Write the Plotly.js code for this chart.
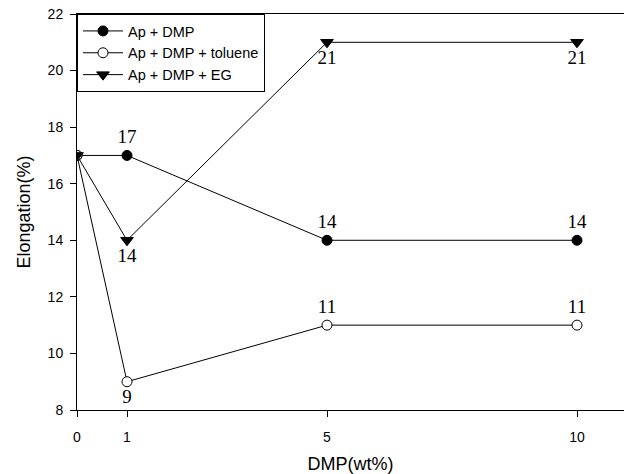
<!DOCTYPE html>
<html>
<head>
<meta charset="utf-8">
<script src="https://cdn.plot.ly/plotly-3.0.1.min.js"></script>
<style>html,body{margin:0;padding:0;background:#fff;}#chart{width:624px;height:474px;}</style>
</head>
<body>
<div id="chart"></div>
<script>
var dmp = [0, 1, 5, 10];
var tickLabels = ['0', '1', '5', '10'];
var apDmp = [17, 17, 14, 14];
var apDmpToluene = [17, 9, 11, 11];
var apDmpEG = [17, 14, 21, 21];
var seriesNames = ['Ap + DMP', 'Ap + DMP + toluene', 'Ap + DMP + EG'];

function labels(vals) {
  return vals.map(function (v, i) { return i === 0 ? '' : String(v); });
}

var labelFont = {family: 'Liberation Serif, Times New Roman, serif', size: 19, color: '#000'};

var traces = [
  {
    x: dmp, y: apDmp, name: seriesNames[0], mode: 'lines+markers+text',
    text: labels(apDmp), textposition: 'top center', textfont: labelFont,
    line: {color: '#000', width: 1},
    marker: {symbol: 'circle', size: 10, color: '#000', line: {color: '#000', width: 1}}
  },
  {
    x: dmp, y: apDmpToluene, name: seriesNames[1], mode: 'lines+markers+text',
    text: labels(apDmpToluene),
    textposition: ['top center', 'bottom center', 'top center', 'top center'],
    textfont: labelFont,
    line: {color: '#000', width: 1},
    marker: {symbol: 'circle', size: 10, color: '#fff', line: {color: '#000', width: 1}}
  },
  {
    x: dmp, y: apDmpEG, name: seriesNames[2], mode: 'lines+markers+text',
    text: labels(apDmpEG), textposition: 'bottom center', textfont: labelFont,
    line: {color: '#000', width: 1},
    marker: {symbol: 'triangle-down', size: 11, color: '#000', line: {color: '#000', width: 1}}
  }
];

var layout = {
  width: 624, height: 474,
  margin: {l: 77, r: 0, t: 14, b: 64},
  paper_bgcolor: '#fff', plot_bgcolor: '#fff',
  font: {family: 'Liberation Sans, Arial, sans-serif', size: 14, color: '#000'},
  showlegend: true,
  legend: {
    x: 0, y: 1, xanchor: 'left', yanchor: 'top',
    bgcolor: '#fff', bordercolor: '#000', borderwidth: 1,
    font: {family: 'Liberation Sans, Arial, sans-serif', size: 14.5, color: '#000'},
    tracegroupgap: 0, itemwidth: 40
  },
  xaxis: {
    range: [0, 10.94], tickvals: dmp, ticktext: tickLabels,
    showgrid: false, zeroline: false,
    showline: true, linecolor: '#000', linewidth: 1, mirror: true,
    ticks: 'outside', ticklen: 6, tickcolor: '#000',
    tickfont: {size: 14}, ticklabelstandoff: 8,
    title: {text: 'DMP(wt%)', font: {size: 18}, standoff: 14}
  },
  yaxis: {
    range: [8, 22], tickvals: [8, 10, 12, 14, 16, 18, 20, 22],
    showgrid: false, zeroline: false,
    showline: true, linecolor: '#000', linewidth: 1, mirror: false,
    ticks: 'outside', ticklen: 6, tickcolor: '#000',
    tickfont: {size: 14}, ticklabelstandoff: 4,
    title: {text: 'Elongation(%)', font: {size: 18}, standoff: 12}
  }
};

Plotly.newPlot('chart', traces, layout, {displayModeBar: false, staticPlot: true});
</script>
</body>
</html>
